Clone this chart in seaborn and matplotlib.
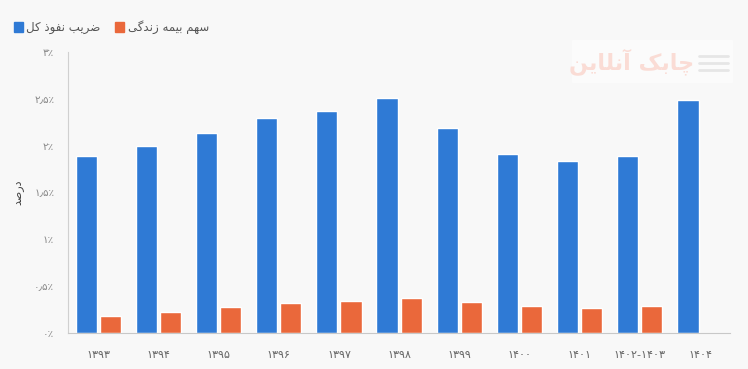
import numpy as np
import pandas as pd
import matplotlib.pyplot as plt
import seaborn as sns

# Dados
anos = ['۱۳۹۳', '۱۳۹۴', '۱۳۹۵', '۱۳۹۶', '۱۳۹۷', '۱۳۹۸', '۱۳۹۹', '۱۴۰۰', '۱۴۰۱', '۱۴۰۲-۱۴۰۳', '۱۴۰۴']
nofuz_kol = [1.89, 2.00, 2.13, 2.29, 2.37, 2.51, 2.19, 1.91, 1.84, 1.89, 2.49]
sahm_zendegi = [0.18, 0.22, 0.28, 0.32, 0.34, 0.37, 0.33, 0.29, 0.27, 0.29, np.nan]
y_ticks = [0, 0.5, 1, 1.5, 2, 2.5, 3]
y_tick_labels = ['۰٪', '۰٫۵٪', '۱٪', '۱٫۵٪', '۲٪', '۲٫۵٪', '۳٪']
serie_1 = 'ضریب نفوذ کل'
serie_2 = 'سهم بیمه زندگی'
eixo_y = 'درصد'
marca = 'چابک آنلاین'

# formas de apresentacao arabes (isolada, final, inicial, medial)
formas = {
    'ض': 'ﺽﺾﺿﻀ', 'ر': 'ﺭﺮ', 'ی': 'ﯼﯽﯾﯿ', 'ب': 'ﺏﺐﺑﺒ', 'ن': 'ﻥﻦﻧﻨ',
    'ف': 'ﻑﻒﻓﻔ', 'و': 'ﻭﻮ', 'ذ': 'ﺫﺬ', 'ک': 'ﮎﮏﮐﮑ', 'ل': 'ﻝﻞﻟﻠ',
    'س': 'ﺱﺲﺳﺴ', 'ه': 'ﻩﻪﻫﻬ', 'م': 'ﻡﻢﻣﻤ', 'ز': 'ﺯﺰ', 'د': 'ﺩﺪ',
    'گ': 'ﮒﮓﮔﮕ', 'ص': 'ﺹﺺﺻﺼ', 'چ': 'ﭺﭻﭼﭽ', 'ا': 'ﺍﺎ', 'آ': 'ﺁﺂ',
}


def rtl(texto):
    saida = []
    for palavra in texto.split(' '):
        res = ''
        for i, c in enumerate(palavra):
            f = formas.get(c)
            if f is None:
                res += c
                continue
            ant = i > 0 and len(formas.get(palavra[i - 1], '')) == 4
            prox = i < len(palavra) - 1 and len(f) == 4 and palavra[i + 1] in formas
            if ant and prox:
                res += f[3]
            elif ant:
                res += f[1]
            elif prox:
                res += f[2]
            else:
                res += f[0]
        saida.append(res)
    return ' '.join(saida)[::-1]


df = pd.DataFrame({
    'ano': anos * 2,
    'valor': nofuz_kol + sahm_zendegi,
    'serie': [serie_1] * len(anos) + [serie_2] * len(anos),
})

sns.set_style('white')
plt.rcParams['font.family'] = ['DejaVu Sans']

azul = '#2f7ad5'
laranja = '#ea683b'
fundo = '#f8f8f8'

fig = plt.figure(figsize=(7.48, 3.69), dpi=100, facecolor=fundo)

# marca d'agua (atras do grafico)
fig.patches.append(plt.Rectangle((572 / 748, 1 - 82 / 369), 160 / 748, 42 / 369, transform=fig.transFigure,
                                 color='#fbfbfb', figure=fig, zorder=0))
fig.text(632 / 748, 1 - 62 / 369, rtl(marca), fontsize=16, fontweight='bold', color='#fadcd5',
         ha='center', va='center', zorder=1)
for dy in [56, 63, 70]:
    fig.add_artist(plt.Line2D([699 / 748, 728 / 748], [1 - dy / 369, 1 - dy / 369],
                              transform=fig.transFigure, color='#e6e6e6', lw=2, zorder=1))

ax = fig.add_axes([0.091, 0.098, 0.885, 0.761])
ax.patch.set_alpha(0)

sns.barplot(data=df, x='ano', y='valor', hue='serie', palette=[azul, laranja],
            width=0.8, gap=0.12, saturation=1, ax=ax, legend=False)

ax.set_xlim(-0.5, len(anos) - 0.5)
ax.set_ylim(0, 3)
ax.set_yticks(y_ticks)
ax.set_yticklabels(y_tick_labels)
ax.set_xticks(range(len(anos)))
ax.set_xticklabels(anos)
ax.set_xlabel('')
ax.set_ylabel(rtl(eixo_y), fontsize=8, color='#444444')
ax.yaxis.set_label_coords(-0.068, 0.5)
ax.tick_params(axis='y', length=8, color='#d0d0d0', labelsize=7.5, labelcolor='#888888', pad=2)
ax.tick_params(axis='x', length=0, labelsize=8, labelcolor='#666666', pad=12)
for s in ['top', 'right']:
    ax.spines[s].set_visible(False)
ax.spines['left'].set_color('#d0d0d0')
ax.spines['bottom'].set_color('#c8c8c8')

# legenda
fig.patches.append(plt.Rectangle((14 / 748, 1 - 32 / 369), 9 / 748, 10 / 369, transform=fig.transFigure,
                                 color=azul, figure=fig))
fig.text(26 / 748, 1 - 27 / 369, rtl(serie_1), fontsize=8.5, color='#555555', va='center')
fig.patches.append(plt.Rectangle((115 / 748, 1 - 32 / 369), 9 / 748, 10 / 369, transform=fig.transFigure,
                                 color=laranja, figure=fig))
fig.text(128 / 748, 1 - 27 / 369, rtl(serie_2), fontsize=8.5, color='#555555', va='center')

plt.savefig('out.png', dpi=100, facecolor=fundo)
